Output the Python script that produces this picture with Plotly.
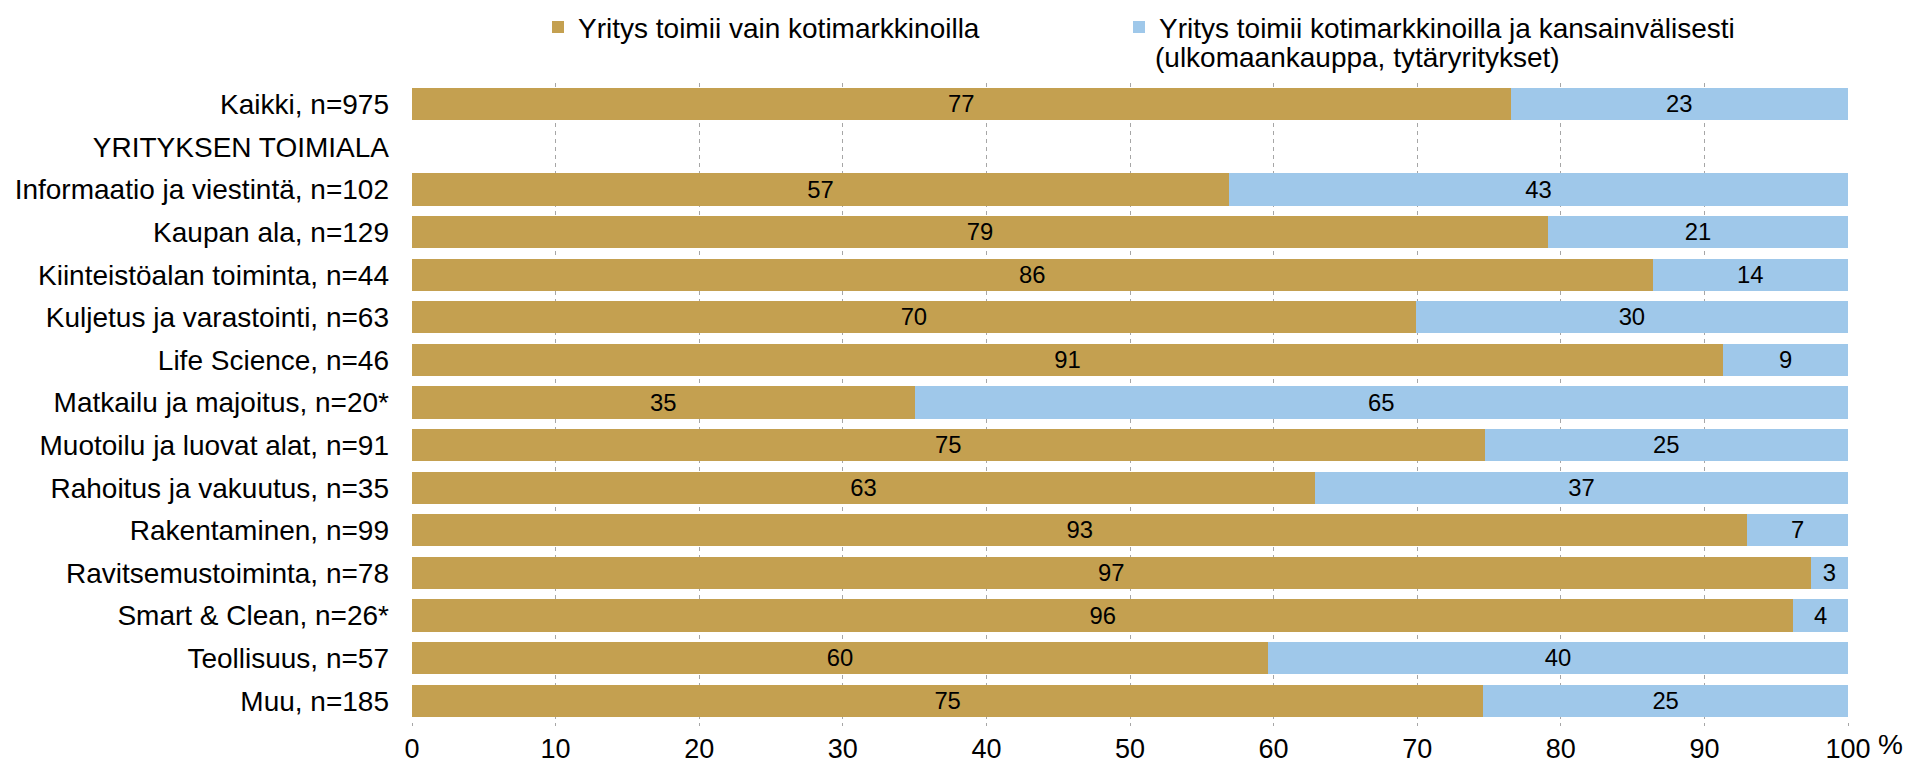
import plotly.graph_objects as go

categories = [
    "Kaikki, n=975",
    "YRITYKSEN TOIMIALA",
    "Informaatio ja viestintä, n=102",
    "Kaupan ala, n=129",
    "Kiinteistöalan toiminta, n=44",
    "Kuljetus ja varastointi, n=63",
    "Life Science, n=46",
    "Matkailu ja majoitus, n=20*",
    "Muotoilu ja luovat alat, n=91",
    "Rahoitus ja vakuutus, n=35",
    "Rakentaminen, n=99",
    "Ravitsemustoiminta, n=78",
    "Smart & Clean, n=26*",
    "Teollisuus, n=57",
    "Muu, n=185",
]

domestic = [76.5, None, 56.9, 79.1, 86.4, 69.9, 91.3, 35.0, 74.7, 62.9, 93.0, 97.4, 96.2, 59.6, 74.6]
international = [23.5, None, 43.1, 20.9, 13.6, 30.1, 8.7, 65.0, 25.3, 37.1, 7.0, 2.6, 3.8, 40.4, 25.4]

domestic_labels = ["77", "", "57", "79", "86", "70", "91", "35", "75", "63", "93", "97", "96", "60", "75"]
international_labels = ["23", "", "43", "21", "14", "30", "9", "65", "25", "37", "7", "3", "4", "40", "25"]

series_names = [
    "Yritys toimii vain kotimarkkinoilla",
    "Yritys toimii kotimarkkinoilla ja kansainvälisesti",
]
legend_line2 = "(ulkomaankauppa, tytäryritykset)"

x_ticks = [0, 10, 20, 30, 40, 50, 60, 70, 80, 90, 100]

FONT = "Liberation Sans, Arial, sans-serif"
GOLD = "#C4A050"
BLUE = "#9FC8EA"

fig = go.Figure()
fig.add_trace(go.Bar(
    y=categories, x=domestic, orientation="h", name=series_names[0],
    marker=dict(color=GOLD, line=dict(width=0)),
    text=domestic_labels, textposition="inside", insidetextanchor="middle",
    textangle=0, textfont=dict(family=FONT, size=28, color="black"),
    hoverinfo="skip", legend="legend",
))
fig.add_trace(go.Bar(
    y=categories, x=international, orientation="h", name=series_names[1],
    marker=dict(color=BLUE, line=dict(width=0)),
    text=international_labels, textposition="inside", insidetextanchor="middle",
    textangle=0, textfont=dict(family=FONT, size=28, color="black"),
    hoverinfo="skip", legend="legend2",
))

legend_common = dict(
    orientation="h", xref="container", yref="container",
    y=0.997, xanchor="left", yanchor="top",
    font=dict(family=FONT, size=28, color="black"),
    itemwidth=30, bgcolor="rgba(0,0,0,0)", itemclick=False,
)

fig.update_layout(
    barmode="stack",
    bargap=0.24,
    width=1906, height=766,
    paper_bgcolor="white", plot_bgcolor="white",
    font=dict(family=FONT, size=28, color="black"),
    margin=dict(l=412, r=58, t=83, b=44, autoexpand=False),
    showlegend=True,
    legend=dict(legend_common, x=(552 - 14) / 1906),
    legend2=dict(legend_common, x=(1140 - 21) / 1906),
    xaxis=dict(
        range=[0, 100], tickvals=x_ticks, ticktext=[str(v) for v in x_ticks],
        showgrid=True, gridcolor="#A6A6A6", griddash="4px,4px", gridwidth=1,
        zeroline=False, showline=False,
        ticks="outside", ticklen=3, tickcolor="#A6A6A6",
        ticklabelstandoff=0,
        tickfont=dict(family=FONT, size=27, color="black"),
        fixedrange=True,
    ),
    yaxis=dict(
        categoryorder="array", categoryarray=categories,
        autorange="reversed", showgrid=False, zeroline=False, showline=False,
        ticks="", ticklabelstandoff=22,
        tickfont=dict(family=FONT, size=28, color="black"),
        fixedrange=True,
    ),
    annotations=[
        dict(text="%", xref="x", yref="paper", x=100, y=0, xanchor="left",
             yanchor="top", xshift=28, yshift=-5, showarrow=False,
             font=dict(family=FONT, size=28, color="black")),
        dict(text=legend_line2, xref="paper", yref="paper", x=(1153 - 412) / 1436,
             y=1 + (83 - 57) / 639, xanchor="left", yanchor="middle",
             showarrow=False, font=dict(family=FONT, size=28, color="black")),
    ],
)

fig.write_html(
    "out.html",
    config={"displayModeBar": False},
    post_script="document.body.style.margin='0';document.body.style.overflow='hidden';",
)
